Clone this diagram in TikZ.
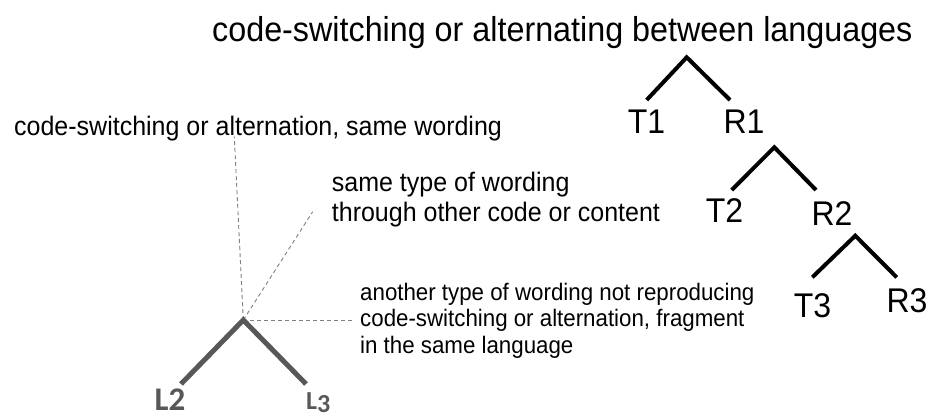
\documentclass[tikz,border=0pt]{standalone}
\usepackage{fontspec}
\setmainfont{Liberation Sans}
\newfontfamily\lfont{Carlito}
\definecolor{lgray}{HTML}{585858}
\definecolor{dgray}{HTML}{808080}
\newcommand{\tallt}[1]{\scalebox{1}[1.07]{#1}}
\begin{document}
\begin{tikzpicture}[x=1pt,y=-1pt,
  branch/.style={line width=4pt, black, line join=miter},
  lbranch/.style={line width=5pt, lgray, line join=miter},
  guide/.style={dgray, line width=0.9pt, dash pattern=on 4pt off 3pt},
  lbl/.style={font=\fontsize{32}{38}\selectfont, inner sep=0, anchor=base},
  midtxt/.style={font=\fontsize{25}{30}\selectfont, inner sep=0, anchor=base west},
  lowtxt/.style={font=\fontsize{22.3}{26}\selectfont, inner sep=0, anchor=base west},
  lnode/.style={font=\lfont\bfseries, text=lgray, inner sep=0, anchor=base}]
\useasboundingbox (0,0) rectangle (930,418);
% title
\node[inner sep=0, anchor=base west, font=\fontsize{32.3}{38}\selectfont] (title) at (212,41) {\tallt{code-switching or alternating between languages}};
% right tree
\coordinate (a1) at (686.7,57.3);
\coordinate (e1l) at (646.7,100);
\coordinate (e1r) at (730,100);
\node[lbl] (T1) at (646.5,133) {\tallt{T1}};
\node[lbl] (R1) at (744,133) {\tallt{R1}};
\coordinate (a2) at (774.3,147.3);
\coordinate (e2l) at (731.7,190);
\coordinate (e2r) at (816,190);
\node[lbl] (T2) at (724.5,222) {\tallt{T2}};
\node[lbl] (R2) at (832,225) {\tallt{R2}};
\coordinate (a3) at (855.3,235.7);
\coordinate (e3l) at (812.3,277.3);
\coordinate (e3r) at (896.7,277.3);
\node[lbl] (T3) at (812.5,317) {\tallt{T3}};
\node[lbl] (R3) at (907,312) {\tallt{R3}};
\draw[branch] (e1l) -- (a1) -- (e1r);
\draw[branch] (e2l) -- (a2) -- (e2r);
\draw[branch] (e3l) -- (a3) -- (e3r);
% left texts
\node[midtxt] (same) at (14,135.7) {\tallt{code-switching or alternation, same wording}};
\node[midtxt] (mid1) at (331.7,191.5) {\tallt{same type of wording}};
\node[midtxt] (mid2) at (331.7,221) {\tallt{through other code or content}};
\node[lowtxt] (low1) at (360,300) {\tallt{another type of wording not reproducing}};
\node[lowtxt] (low2) at (360,326.7) {\tallt{code-switching or alternation, fragment}};
\node[lowtxt] (low3) at (360,353) {\tallt{in the same language}};
% left tree
\coordinate (la) at (243.3,320);
\coordinate (lel) at (181,384);
\coordinate (ler) at (306,384);
\coordinate (g1) at (234.3,136.7);
\coordinate (g2) at (312.7,211.7);
\coordinate (g3) at (351.7,320);
\draw[guide] (la) -- (g1);
\draw[guide] (la) -- (g2);
\draw[guide] (la) -- (g3);
\draw[lbranch] (lel) -- (la) -- (ler);
\node[lnode, font=\lfont\bfseries\fontsize{33}{38}\selectfont] (L2) at (170,410) {L2};
\node[lnode, font=\lfont\bfseries\fontsize{26}{30}\selectfont, anchor=base west] (L3) at (306,409) {L\raisebox{-3pt}{3}};
\end{tikzpicture}
\end{document}
